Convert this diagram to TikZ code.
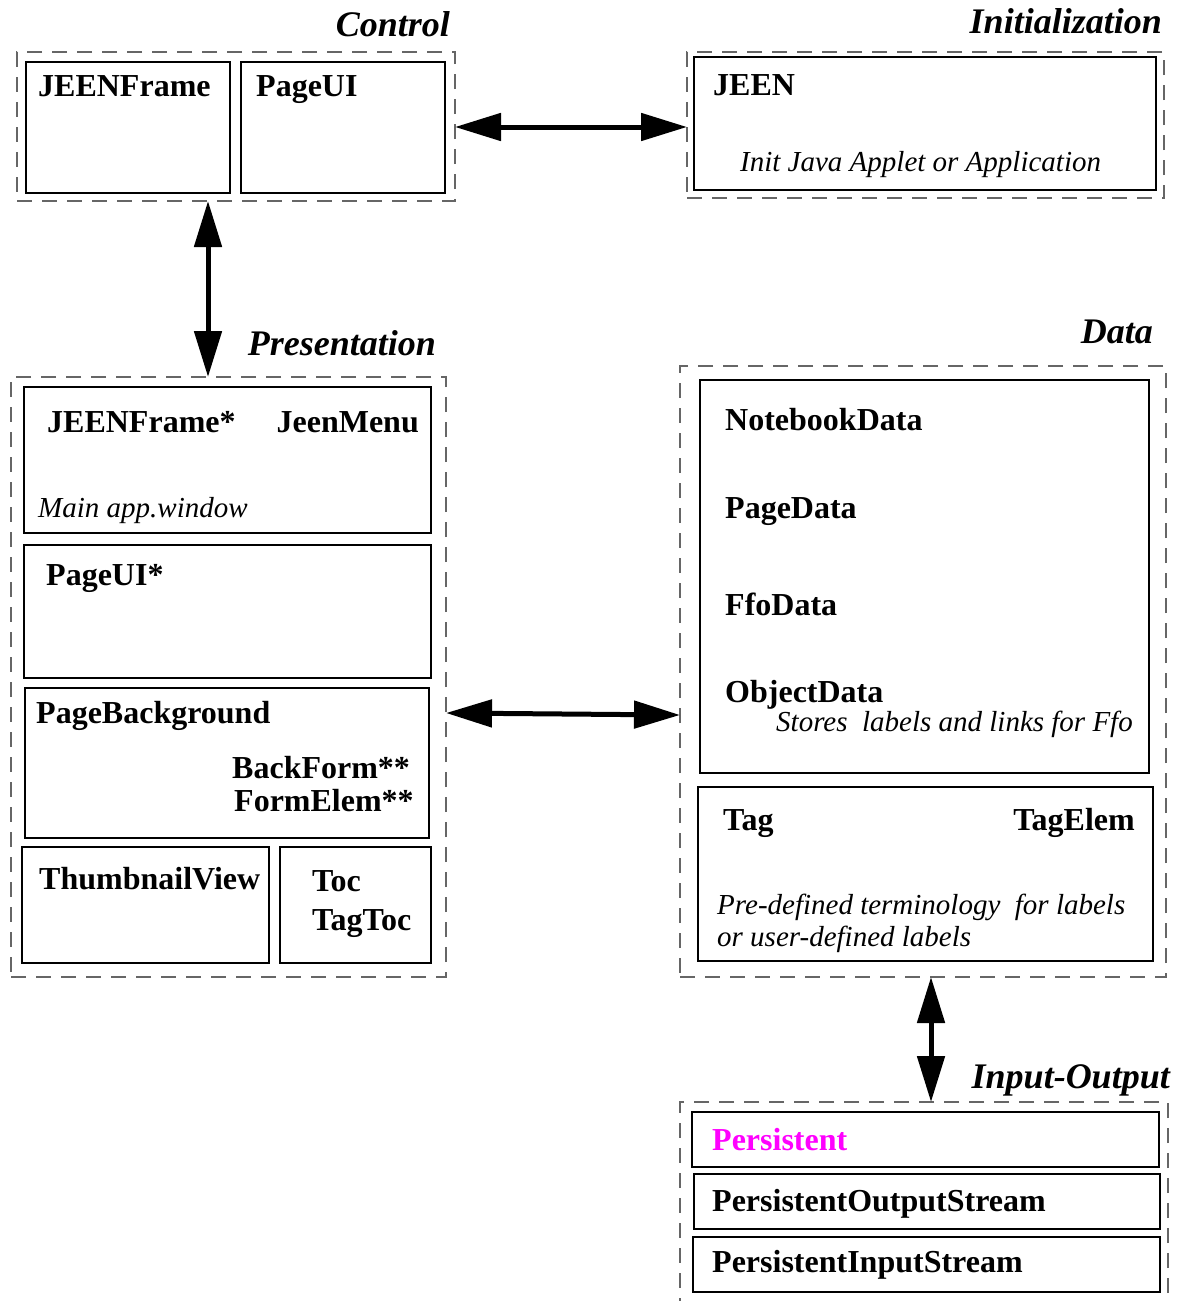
\documentclass[tikz,border=0pt]{standalone}
\usepackage{fontspec}
\setmainfont{Liberation Serif}
\usetikzlibrary{arrows.meta}
\definecolor{dashgray}{gray}{0.4}
\definecolor{persmag}{RGB}{255,0,255}
\begin{document}
\begin{tikzpicture}[x=1pt,y=-1pt,
 grp/.style={draw=dashgray, line width=1.1pt, dash pattern=on 15pt off 10pt, rectangle, inner sep=0pt, outer sep=0pt},
 cls/.style={draw=black, line width=2.4pt, rectangle, inner sep=0pt, outer sep=0pt},
 ttl/.style={font=\fontsize{36}{40}\selectfont\bfseries\itshape, inner sep=0pt, anchor=base east},
 lbl/.style={font=\fontsize{32}{36}\selectfont\bfseries, inner sep=0pt, anchor=base west},
 lblr/.style={lbl, anchor=base east},
 note/.style={font=\fontsize{29}{33}\selectfont\itshape, inner sep=0pt, anchor=base west},
 conn/.style={line width=5pt, {Triangle[length=46pt,width=27pt]}-{Triangle[length=46pt,width=27pt]}}
]
\useasboundingbox (0,0) rectangle (1181,1301);
\clip (0,0) rectangle (1181,1301);
\fill[white] (0,0) rectangle (1181,1301);

% Control
\node[grp, minimum width=438pt, minimum height=149pt] (ctrl) at (236,126.5) {};
\node[ttl] (ctrlT) at (450,36) {Control};
\node[cls, minimum width=204pt, minimum height=131pt] (cJF) at (128,127.5) {};
\node[cls, minimum width=204pt, minimum height=131pt] (cPU) at (343,127.5) {};
\node[lbl] (cJFt) at (38,96) {JEENFrame};
\node[lbl] (cPUt) at (256,96) {PageUI};

% Initialization
\node[grp, minimum width=477pt, minimum height=146pt] (init) at (925.5,125) {};
\node[ttl] (initT) at (1162,33) {Initialization};
\node[cls, minimum width=462pt, minimum height=133pt] (iJ) at (925,123.5) {};
\node[lbl] (iJt) at (713,95) {JEEN};
\node[note] (iJn) at (740,171) {Init Java Applet or Application};

% Presentation
\node[grp, minimum width=435pt, minimum height=600pt] (pres) at (228.5,677) {};
\node[ttl] (presT) at (436,355) {Presentation};
\node[cls, minimum width=407pt, minimum height=146pt] (p1) at (227.5,460) {};
\node[lbl] (p1a) at (47,432) {JEENFrame*};
\node[lblr] (p1b) at (419,432) {JeenMenu};
\node[note] (p1n) at (38,517) {Main app.window};
\node[cls, minimum width=407pt, minimum height=133pt] (p2) at (227.5,611.5) {};
\node[lbl] (p2a) at (46,585) {PageUI*};
\node[cls, minimum width=404pt, minimum height=150pt] (p3) at (227,763) {};
\node[lbl] (p3a) at (36,723) {PageBackground};
\node[lbl] (p3b) at (232,778) {BackForm**};
\node[lbl] (p3c) at (234,811) {FormElem**};
\node[cls, minimum width=247pt, minimum height=116pt] (p4) at (145.5,905) {};
\node[lbl] (p4a) at (39,889) {ThumbnailView};
\node[cls, minimum width=151pt, minimum height=116pt] (p5) at (355.5,905) {};
\node[lbl] (p5a) at (312,891) {Toc};
\node[lbl] (p5b) at (312,930) {TagToc};

% Data
\node[grp, minimum width=486pt, minimum height=611pt] (data) at (923,671.5) {};
\node[ttl] (dataT) at (1153,343) {Data};
\node[cls, minimum width=449pt, minimum height=393pt] (d1) at (924.5,576.5) {};
\node[lbl] (d1a) at (725,430) {NotebookData};
\node[lbl] (d1b) at (725,518) {PageData};
\node[lbl] (d1c) at (725,615) {FfoData};
\node[lbl] (d1d) at (725,702) {ObjectData};
\node[note] (d1n) at (776,731) {Stores\ \ labels and links for Ffo};
\node[cls, minimum width=455pt, minimum height=174pt] (d2) at (925.5,874) {};
\node[lbl] (d2a) at (723,830) {Tag};
\node[lblr] (d2b) at (1135,830) {TagElem};
\node[note] (d2n1) at (717,914) {Pre-defined terminology\ \ for labels};
\node[note] (d2n2) at (717,946) {or user-defined labels};

% Input-Output
\node[grp, minimum width=488pt, minimum height=228pt] (io) at (924,1216) {};
\node[ttl] (ioT) at (1170,1088) {Input-Output};
\node[cls, minimum width=467pt, minimum height=55pt] (io1) at (925.5,1139.5) {};
\node[lbl, text=persmag] (io1t) at (712,1150) {Persistent};
\node[cls, minimum width=466pt, minimum height=55pt] (io2) at (927,1201.5) {};
\node[lbl] (io2t) at (712,1211) {PersistentOutputStream};
\node[cls, minimum width=467pt, minimum height=55pt] (io3) at (926.5,1264.5) {};
\node[lbl] (io3t) at (712,1272) {PersistentInputStream};

% Connectors
\draw[conn] ([yshift=-0.5pt]ctrl.east) -- ([yshift=-2pt]init.west);
\draw[conn] ([xshift=-28pt]ctrl.south) -- ([xshift=-20.5pt]pres.north);
\draw[conn] ([yshift=-36pt]pres.east) -- ([yshift=-43.5pt]data.west);
\draw[conn] ([xshift=8pt]data.south) -- ([xshift=7pt]io.north);
\end{tikzpicture}
\end{document}
